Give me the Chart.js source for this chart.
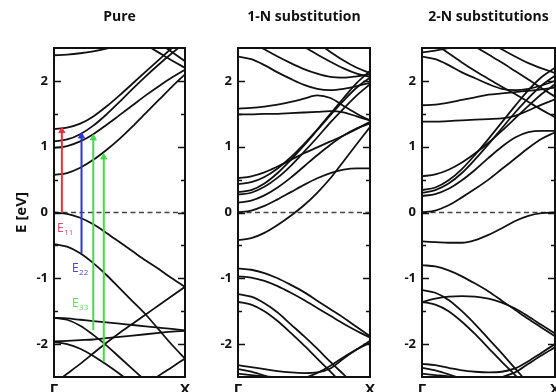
<!DOCTYPE html>
<html>
<head>
<meta charset="utf-8">
<script src="https://cdn.jsdelivr.net/npm/chart.js@4.4.1/dist/chart.umd.min.js"></script>
<style>
  html, body { margin: 0; padding: 0; background: #fff; overflow: hidden; }
  #wrap { position: relative; width: 556px; height: 392px; overflow: hidden; }
  canvas { position: absolute; top: 0; }
</style>
</head>
<body>
<div id="wrap">
  <canvas id="pure" width="200" height="392" style="left:0px"></canvas>
  <canvas id="oneN" width="185" height="392" style="left:200px"></canvas>
  <canvas id="twoN" width="195" height="392" style="left:385px"></canvas>
</div>
<script>
// k path from Gamma to X (fraction of the zone edge)
var kPath = [0, 0.1, 0.2, 0.3, 0.4, 0.5, 0.6, 0.7, 0.8, 0.9, 1];
var kLabels = ['Γ', 'X'];
var energyTicks = [-2, -1, 0, 1, 2];
var energyMinorTicks = [-1.5, -0.5, 0.5, 1.5];
var fermiLevel = 0;
var panelTitles = ['Pure', '1-N substitution', '2-N substitutions'];

// band energies (eV) at each k point
var pureBands = [
  [2.39, 2.40, 2.42, 2.45, 2.49, 2.54, 2.60, 2.66, 2.72, 2.78, 2.84],
  [1.27, 1.29, 1.35, 1.46, 1.61, 1.78, 1.96, 2.14, 2.32, 2.50, 2.67],
  [1.08, 1.11, 1.19, 1.32, 1.49, 1.68, 1.88, 2.07, 2.25, 2.42, 2.58],
  [0.98, 1.01, 1.08, 1.19, 1.33, 1.48, 1.63, 1.78, 1.92, 2.05, 2.17],
  [0.57, 0.60, 0.68, 0.80, 0.95, 1.12, 1.31, 1.51, 1.71, 1.91, 2.10],
  [3.60, 3.42, 3.24, 3.06, 2.91, 2.79, 2.67, 2.55, 2.43, 2.31, 2.20],
  [3.90, 3.72, 3.54, 3.36, 3.18, 3.00, 2.86, 2.73, 2.58, 2.44, 2.30],
  [0.00, -0.02, -0.08, -0.18, -0.31, -0.45, -0.59, -0.73, -0.86, -1.00, -1.13],
  [-0.48, -0.52, -0.62, -0.77, -0.95, -1.15, -1.35, -1.55, -1.78, -2.01, -2.22],
  [-2.60, -2.45, -2.30, -2.14, -1.98, -1.83, -1.69, -1.55, -1.41, -1.27, -1.13],
  [-1.60, -1.61, -1.63, -1.65, -1.67, -1.69, -1.71, -1.73, -1.75, -1.77, -1.79],
  [-1.96, -1.95, -1.94, -1.93, -1.91, -1.89, -1.87, -1.85, -1.83, -1.81, -1.80],
  [-1.97, -2.00, -2.07, -2.18, -2.31, -2.45, -2.60, -2.75, -2.90, -3.05, -3.20],
  [-1.60, -1.63, -1.72, -1.86, -2.02, -2.20, -2.38, -2.56, -2.74, -2.92, -3.10],
  [-3.60, -3.44, -3.28, -3.14, -3.00, -2.86, -2.74, -2.62, -2.48, -2.35, -2.22]
];

var oneNBands = [
  [0.00, 0.03, 0.10, 0.20, 0.31, 0.42, 0.52, 0.60, 0.65, 0.67, 0.67],
  [-0.42, -0.39, -0.31, -0.19, -0.05, 0.11, 0.30, 0.52, 0.78, 1.04, 1.30],
  [0.15, 0.18, 0.26, 0.38, 0.53, 0.70, 0.87, 1.03, 1.17, 1.28, 1.35],
  [0.27, 0.30, 0.39, 0.53, 0.71, 0.92, 1.14, 1.37, 1.58, 1.78, 1.95],
  [0.31, 0.34, 0.44, 0.60, 0.80, 1.02, 1.25, 1.48, 1.70, 1.90, 2.05],
  [0.43, 0.46, 0.54, 0.67, 0.84, 1.04, 1.26, 1.50, 1.74, 1.97, 2.15],
  [0.52, 0.55, 0.61, 0.70, 0.80, 0.90, 0.99, 1.08, 1.17, 1.27, 1.38],
  [1.58, 1.59, 1.61, 1.64, 1.68, 1.73, 1.78, 1.74, 1.62, 1.50, 1.40],
  [1.49, 1.49, 1.50, 1.50, 1.51, 1.52, 1.53, 1.54, 1.52, 1.46, 1.40],
  [2.37, 2.33, 2.24, 2.13, 2.03, 1.94, 1.88, 1.86, 1.88, 1.92, 1.97],
  [2.72, 2.60, 2.48, 2.37, 2.27, 2.18, 2.11, 2.06, 2.05, 2.07, 2.10],
  [3.10, 2.98, 2.86, 2.75, 2.64, 2.52, 2.40, 2.29, 2.19, 2.11, 2.06],
  [3.30, 3.18, 3.06, 2.94, 2.82, 2.70, 2.58, 2.44, 2.31, 2.20, 2.12],
  [-0.85, -0.87, -0.92, -1.00, -1.10, -1.21, -1.34, -1.47, -1.60, -1.74, -1.88],
  [-0.97, -0.99, -1.04, -1.12, -1.22, -1.33, -1.45, -1.57, -1.69, -1.80, -1.90],
  [-1.24, -1.28, -1.38, -1.52, -1.70, -1.88, -2.07, -2.27, -2.46, -2.65, -2.85],
  [-1.36, -1.40, -1.50, -1.65, -1.83, -2.02, -2.22, -2.42, -2.62, -2.82, -3.00],
  [-2.32, -2.35, -2.38, -2.41, -2.43, -2.44, -2.43, -2.37, -2.22, -2.08, -1.95],
  [-2.38, -2.42, -2.48, -2.55, -2.62, -2.70, -2.78, -2.86, -2.94, -3.02, -3.10],
  [-2.45, -2.47, -2.49, -2.51, -2.54, -2.57, -2.60, -2.63, -2.66, -2.69, -2.72],
  [-3.00, -2.90, -2.80, -2.70, -2.60, -2.52, -2.44, -2.33, -2.20, -2.08, -1.98]
];

var twoNBands = [
  [0.00, 0.03, 0.11, 0.23, 0.36, 0.50, 0.66, 0.82, 0.98, 1.12, 1.22],
  [0.25, 0.28, 0.36, 0.49, 0.65, 0.83, 1.00, 1.14, 1.22, 1.24, 1.24],
  [0.30, 0.34, 0.44, 0.60, 0.81, 1.04, 1.28, 1.52, 1.74, 1.93, 2.08],
  [0.34, 0.38, 0.49, 0.66, 0.88, 1.12, 1.37, 1.62, 1.86, 2.06, 2.20],
  [0.55, 0.58, 0.65, 0.76, 0.90, 1.06, 1.24, 1.43, 1.62, 1.80, 1.95],
  [1.63, 1.64, 1.67, 1.71, 1.75, 1.79, 1.81, 1.83, 1.85, 1.87, 1.90],
  [1.38, 1.38, 1.39, 1.40, 1.41, 1.42, 1.43, 1.47, 1.55, 1.64, 1.72],
  [2.37, 2.33, 2.24, 2.13, 2.04, 1.95, 1.88, 1.86, 1.88, 1.93, 2.00],
  [2.43, 2.46, 2.50, 2.54, 2.58, 2.62, 2.66, 2.70, 2.74, 2.78, 2.82],
  [2.70, 2.56, 2.42, 2.28, 2.15, 2.03, 1.91, 1.80, 1.68, 1.56, 1.45],
  [3.00, 2.88, 2.76, 2.64, 2.52, 2.40, 2.28, 2.15, 2.02, 1.89, 1.76],
  [3.30, 3.15, 3.00, 2.86, 2.72, 2.60, 2.48, 2.37, 2.27, 2.19, 2.12],
  [-0.44, -0.45, -0.46, -0.46, -0.42, -0.34, -0.24, -0.13, -0.05, -0.01, 0.00],
  [-0.80, -0.82, -0.88, -0.97, -1.08, -1.20, -1.34, -1.48, -1.62, -1.75, -1.88],
  [-1.18, -1.22, -1.33, -1.50, -1.70, -1.92, -2.14, -2.37, -2.60, -2.83, -3.05],
  [-1.36, -1.40, -1.50, -1.66, -1.85, -2.06, -2.27, -2.47, -2.68, -2.89, -3.10],
  [-1.36, -1.31, -1.28, -1.27, -1.28, -1.31, -1.37, -1.46, -1.58, -1.71, -1.84],
  [-2.30, -2.32, -2.36, -2.40, -2.42, -2.43, -2.42, -2.37, -2.26, -2.13, -2.00],
  [-2.36, -2.40, -2.46, -2.53, -2.60, -2.68, -2.76, -2.84, -2.92, -3.00, -3.08],
  [-2.45, -2.47, -2.49, -2.52, -2.55, -2.58, -2.61, -2.64, -2.67, -2.70, -2.73],
  [-3.00, -2.90, -2.80, -2.70, -2.62, -2.55, -2.50, -2.43, -2.30, -2.17, -2.05]
];

// optical transitions on the pure tube
var transitionK = [0.06, 0.21, 0.30, 0.38];
var transitionFrom = [0, -0.62, -1.79, -2.27];
var transitionTo = [1.24, 1.16, 1.13, 0.84];
var transitionNames = ['11', '22', '33'];
var transitionColors = ['#e8313f', '#2b35d8', '#45d94c', '#45d94c'];
var transitionLabelColors = ['#e0485c', '#4a45c8', '#5fd65f'];

Chart.defaults.font.family = "'Open Sans', sans-serif";
Chart.defaults.color = '#111';

var bandFrame = {
  id: 'bandFrame',
  afterDraw: function(chart, args, opts) {
    var ctx = chart.ctx;
    var a = chart.chartArea;
    var ys = chart.scales.y;
    var xs = chart.scales.x;
    ctx.save();

    ctx.fillStyle = '#111';
    ctx.font = 'bold 14px "Open Sans"';
    ctx.textAlign = 'center';
    ctx.textBaseline = 'middle';
    ctx.fillText(opts.title, (a.left + a.right) / 2, 17);

    // inward tick marks on both sides
    ctx.strokeStyle = '#111';
    ctx.lineWidth = 1.3;
    ctx.beginPath();
    function tick(v, len) {
      var py = Math.round(ys.getPixelForValue(v)) + 0.5;
      ctx.moveTo(a.left, py); ctx.lineTo(a.left + len, py);
      ctx.moveTo(a.right, py); ctx.lineTo(a.right - len, py);
    }
    energyTicks.forEach(function(v) { tick(v, 7); });
    energyMinorTicks.forEach(function(v) { tick(v, 4); });
    ctx.stroke();

    ctx.lineWidth = 2;
    ctx.strokeRect(a.left, a.top, a.right - a.left, a.bottom - a.top);

    // E_ii labels next to the arrows
    (opts.labels || []).forEach(function(l, i) {
      var px = xs.getPixelForValue(l.k);
      var py = ys.getPixelForValue(l.e);
      ctx.fillStyle = transitionLabelColors[i];
      ctx.textAlign = 'left';
      ctx.textBaseline = 'alphabetic';
      ctx.font = '12px "Open Sans"';
      ctx.fillText('E', px, py);
      var w = ctx.measureText('E').width;
      ctx.font = '8px "Open Sans"';
      ctx.fillText(transitionNames[i], px + w + 0.5, py + 3);
    });
    ctx.restore();
  }
};

function makePanel(id, bands, title, axisWidth, rightPad, withArrows) {
  var datasets = bands.map(function(b) {
    return {
      data: b.map(function(e, i) { return {x: kPath[i], y: e}; }),
      borderColor: '#111',
      borderWidth: 1.8,
      pointRadius: 0,
      cubicInterpolationMode: 'monotone',
      fill: false,
      order: 2
    };
  });
  datasets.push({
    data: [{x: 0, y: fermiLevel}, {x: 1, y: fermiLevel}],
    borderColor: '#444',
    borderWidth: 1.3,
    borderDash: [5, 3.5],
    pointRadius: 0,
    order: 3
  });
  var labels = [];
  if (withArrows) {
    transitionK.forEach(function(k, i) {
      datasets.push({
        data: [{x: k, y: transitionFrom[i]}, {x: k, y: transitionTo[i]}],
        borderColor: transitionColors[i],
        borderWidth: 2,
        pointRadius: [0, 3.5],
        pointStyle: 'triangle',
        pointBackgroundColor: transitionColors[i],
        pointBorderColor: transitionColors[i],
        pointBorderWidth: 1,
        order: 1
      });
    });
    labels = [{k: 0.023, e: -0.30}, {k: 0.137, e: -0.90}, {k: 0.137, e: -1.44}];
  }

  return new Chart(document.getElementById(id), {
    type: 'line',
    data: {datasets: datasets},
    options: {
      responsive: false,
      animation: false,
      events: [],
      layout: {padding: {top: 48, right: rightPad, bottom: 0, left: 0}},
      plugins: {
        legend: {display: false},
        tooltip: {enabled: false},
        bandFrame: {title: title, labels: labels}
      },
      scales: {
        x: {
          type: 'linear',
          min: 0,
          max: 1,
          grid: {display: false, drawTicks: false},
          border: {display: false},
          afterBuildTicks: function(s) { s.ticks = [{value: 0}, {value: 1}]; },
          afterFit: function(s) { s.height = 15; },
          ticks: {
            padding: 4,
            maxRotation: 0,
            autoSkip: false,
            font: {size: 15, weight: 'bold'},
            callback: function(v, i) { return kLabels[i]; }
          }
        },
        y: {
          min: -2.5,
          max: 2.5,
          grid: {display: false, drawTicks: false},
          border: {display: false},
          afterBuildTicks: function(s) {
            s.ticks = energyTicks.map(function(v) { return {value: v}; });
          },
          afterFit: function(s) { s.width = axisWidth; },
          ticks: {
            padding: 6,
            font: {size: 13, weight: 'bold'},
            callback: function(v) { return String(v); }
          },
          title: {
            display: withArrows,
            text: 'E [eV]',
            font: {size: 15, weight: 'bold'},
            padding: {top: 13, bottom: 0}
          }
        }
      }
    },
    plugins: [bandFrame]
  });
}

makePanel('pure', pureBands, panelTitles[0], 54, 15, true);
makePanel('oneN', oneNBands, panelTitles[1], 38, 15, false);
makePanel('twoN', twoNBands, panelTitles[2], 37, 25, false);
</script>
</body>
</html>
